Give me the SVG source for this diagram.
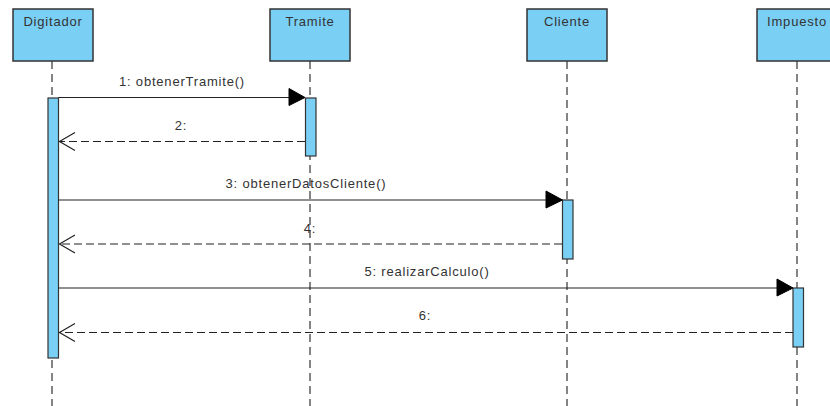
<svg xmlns="http://www.w3.org/2000/svg" width="830" height="406" viewBox="0 0 830 406">
<defs>
<style>
.box{fill:#7acff5;stroke:#333;stroke-width:1.5}
.act{fill:#7acff5;stroke:#333;stroke-width:1.2}
.life{stroke:#333;stroke-width:1.2;stroke-dasharray:8 5;fill:none}
.msg{stroke:#222;stroke-width:1.2;fill:none}
.ret{stroke:#222;stroke-width:1.2;fill:none;stroke-dasharray:8 4}
.head{fill:#000;stroke:#000;stroke-width:1}
.open{stroke:#222;stroke-width:1.2;fill:none}
text{font-family:"Liberation Sans",Arial,sans-serif;font-size:13px;letter-spacing:0.8px;fill:#333}
.t{text-anchor:middle}
</style>
</defs>
<rect width="830" height="406" fill="#fff"/>
<g id="lifelines">
<line class="life" x1="52" y1="61" x2="52" y2="406"/>
<line class="life" x1="310" y1="61" x2="310" y2="406"/>
<line class="life" x1="567" y1="61" x2="567" y2="406"/>
<line class="life" x1="797" y1="61" x2="797" y2="406"/>
</g>
<g id="Digitador">
<rect class="box" x="13" y="9" width="80" height="52"/>
<text class="t" x="53" y="26">Digitador</text>
<rect class="act" x="48" y="98" width="10.5" height="260"/>
</g>
<g id="Tramite">
<rect class="box" x="270" y="9" width="80" height="52"/>
<text class="t" x="310" y="26">Tramite</text>
<rect class="act" x="305.5" y="98" width="10.5" height="58"/>
</g>
<g id="Cliente">
<rect class="box" x="527" y="9" width="80" height="52"/>
<text class="t" x="567" y="26">Cliente</text>
<rect class="act" x="562.5" y="200" width="10.5" height="59"/>
</g>
<g id="Impuesto">
<rect class="box" x="757" y="9" width="80" height="52"/>
<text class="t" x="797" y="26">Impuesto</text>
<rect class="act" x="793" y="288" width="10.5" height="59"/>
</g>
<g id="connectors">
<line class="msg" x1="58.5" y1="97.5" x2="300" y2="97.5"/>
<polygon class="head" points="305,97.5 289,88.5 289,105.5"/>
<text class="t" x="182" y="86">1: obtenerTramite()</text>
<line class="ret" x1="305" y1="141.5" x2="60" y2="141.5"/>
<polyline class="open" points="75,132.5 59.5,141.5 75,150.5"/>
<text class="t" x="181" y="130">2:</text>
<line class="msg" x1="58.5" y1="200" x2="557" y2="200"/>
<polygon class="head" points="562.5,200 546,191 546,208"/>
<text class="t" x="306" y="188">3: obtenerDatosCliente()</text>
<line class="ret" x1="562" y1="244" x2="60" y2="244"/>
<polyline class="open" points="75,235 59.5,244 75,253"/>
<text class="t" x="310" y="233">4:</text>
<line class="msg" x1="58.5" y1="288" x2="788" y2="288"/>
<polygon class="head" points="793,288 777,279 777,296"/>
<text class="t" x="427" y="276">5: realizarCalculo()</text>
<line class="ret" x1="793" y1="332.5" x2="60" y2="332.5"/>
<polyline class="open" points="75,323.5 59.5,332.5 75,341.5"/>
<text class="t" x="425" y="320">6:</text>
</g>
</svg>
